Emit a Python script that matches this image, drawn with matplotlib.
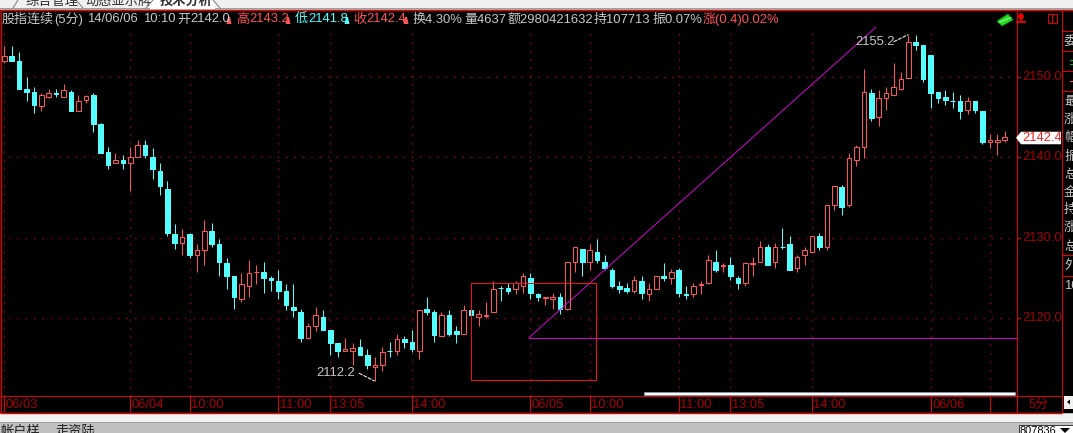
import matplotlib
matplotlib.use("Agg")
import matplotlib.pyplot as plt
from matplotlib.patches import Rectangle, Polygon, Circle

FONT = ['Liberation Sans', 'Noto Sans CJK SC', 'DejaVu Sans']
plt.rcParams['font.family'] = FONT

opens = [2151.9,2152.5,2151.9,2148.4,2148.1,2146.4,2147.5,2147.9,2147.5,2148.1,
         2145.7,2147.1,2147.7,2144.1,2140.6,2139.3,2139.6,2139.3,2140.0,2141.5,
         2140.0,2138.3,2136.0,2130.4,2129.4,2130.4,2127.8,2128.5,2130.8,2129.2,
         2126.8,2125.2,2122.4,2124.0,2125.7,2125.8,2125.0,2124.6,2123.4,2121.4,
         2120.8,2117.5,2119.1,2120.1,2118.5,2116.9,2115.9,2115.9,2116.5,2115.5,
         2113.9,2114.2,2116.0,2115.9,2117.4,2117.1,2115.9,2121.1,2120.8,2117.8,
         2120.4,2118.4,2118.1,2121.0,2120.1,2120.3,2120.8,2123.8,2123.7,2123.6,
         2124.0,2125.0,2123.0,2122.5,2122.4,2122.7,2121.1,2127.0,2128.6,2127.0,
         2128.2,2127.0,2126.0,2124.0,2123.7,2123.4,2124.6,2123.0,2123.6,2125.3,
         2125.0,2126.0,2123.0,2123.0,2124.1,2124.4,2127.0,2126.5,2126.6,2125.0,
         2124.4,2126.7,2127.0,2128.8,2127.0,2128.9,2129.2,2126.3,2127.9,2128.2,
         2130.2,2128.9,2134.0,2136.3,2134.0,2139.6,2141.2,2147.9,2145.0,2147.3,
         2147.7,2148.4,2149.8,2154.3,2153.9,2152.7,2148.1,2147.5,2147.0,2146.9,
         2145.8,2146.9,2145.7,2141.9,2141.9,2142.1]
highs = [2153.8,2153.8,2153.0,2149.9,2148.7,2148.0,2148.4,2148.4,2149.1,2148.3,
         2147.7,2147.7,2147.9,2144.2,2141.2,2140.5,2140.2,2141.2,2142.1,2142.1,
         2141.1,2139.3,2137.0,2131.7,2131.1,2130.6,2129.2,2132.2,2131.8,2129.8,
         2127.5,2125.2,2125.6,2127.2,2126.6,2127.0,2125.3,2126.0,2124.2,2124.2,
         2121.1,2119.4,2121.4,2121.0,2118.5,2116.9,2117.5,2116.9,2117.4,2116.2,
         2115.2,2116.5,2117.1,2118.1,2117.8,2118.5,2121.0,2122.6,2121.0,2120.8,
         2121.0,2119.0,2121.7,2121.0,2121.0,2122.0,2124.6,2124.0,2124.4,2124.6,
         2125.6,2125.6,2123.2,2122.6,2123.2,2123.2,2127.0,2128.8,2128.6,2129.2,
         2129.8,2127.8,2126.2,2124.6,2124.4,2125.3,2125.2,2124.4,2125.3,2126.8,
         2126.1,2126.2,2124.0,2124.4,2124.6,2127.8,2128.5,2126.8,2127.6,2125.3,
         2127.0,2127.6,2129.6,2129.2,2129.4,2131.2,2130.2,2127.9,2128.8,2130.2,
         2130.6,2134.0,2136.4,2136.6,2140.5,2141.5,2150.9,2148.4,2148.3,2148.7,
         2151.7,2150.6,2155.2,2155.2,2153.9,2152.7,2148.1,2148.3,2148.1,2147.7,
         2147.5,2146.9,2145.7,2142.9,2142.9,2143.2]
lows = [2151.7,2151.9,2148.4,2147.0,2145.5,2145.7,2147.3,2147.4,2147.5,2145.7,
        2145.7,2146.7,2143.1,2140.5,2138.5,2139.3,2138.5,2135.8,2140.0,2139.9,
        2137.3,2135.3,2130.2,2128.6,2127.8,2127.5,2125.8,2126.6,2128.8,2125.2,
        2123.6,2121.1,2122.0,2122.7,2124.2,2123.2,2123.4,2122.4,2121.0,2120.1,
        2117.1,2117.4,2118.4,2118.5,2115.5,2115.2,2115.9,2114.2,2115.5,2113.7,
        2112.2,2113.5,2115.2,2115.5,2116.3,2115.8,2114.9,2120.4,2117.1,2117.8,
        2117.8,2116.9,2118.1,2120.4,2119.0,2120.0,2120.8,2122.1,2123.0,2123.0,
        2123.2,2122.4,2122.1,2121.7,2121.1,2120.5,2121.0,2125.8,2125.3,2126.0,
        2126.8,2126.0,2123.7,2123.2,2123.2,2123.2,2122.4,2122.1,2123.6,2124.6,
        2124.2,2122.7,2122.4,2122.6,2123.0,2124.2,2125.8,2125.8,2124.7,2123.6,
        2124.0,2125.3,2127.0,2126.6,2126.3,2128.6,2126.0,2125.8,2126.6,2128.2,
        2128.5,2128.5,2133.4,2132.8,2133.8,2138.9,2139.9,2144.5,2143.9,2145.8,
        2147.7,2148.3,2149.8,2153.3,2149.3,2146.1,2146.7,2146.5,2146.1,2144.7,
        2145.3,2145.5,2141.6,2141.1,2140.2,2141.9]
closes = [2152.5,2151.9,2148.4,2148.1,2146.5,2147.7,2147.9,2147.8,2148.3,2145.7,
          2146.9,2147.6,2144.1,2140.5,2139.0,2139.6,2139.3,2140.0,2141.5,2140.2,
          2138.5,2136.4,2130.6,2129.4,2130.1,2127.8,2128.5,2130.8,2129.2,2127.0,
          2125.2,2122.7,2124.2,2125.6,2125.8,2125.0,2124.7,2123.4,2121.6,2121.0,
          2117.5,2119.1,2120.4,2118.5,2116.9,2115.9,2116.2,2116.3,2115.5,2114.2,
          2114.2,2115.8,2115.9,2117.4,2117.1,2116.2,2121.0,2120.8,2117.9,2120.4,
          2118.1,2118.1,2121.0,2120.4,2120.5,2120.4,2123.6,2123.7,2123.4,2124.4,
          2125.2,2123.2,2122.6,2122.6,2122.7,2121.1,2127.0,2128.8,2127.0,2128.5,
          2127.2,2126.2,2124.0,2123.6,2123.4,2124.7,2123.2,2123.6,2125.3,2125.0,
          2125.8,2123.2,2122.9,2124.0,2124.2,2127.2,2126.0,2126.6,2125.2,2124.4,
          2126.8,2126.8,2128.9,2126.6,2128.9,2128.8,2126.0,2127.6,2128.5,2130.2,
          2128.9,2134.0,2136.4,2133.8,2139.9,2141.2,2148.1,2144.8,2147.3,2147.9,
          2148.7,2149.7,2154.3,2153.9,2149.7,2147.9,2147.3,2147.1,2146.9,2145.7,
          2146.9,2145.8,2141.9,2142.1,2142.1,2142.5]

price_ticks = [2150.0, 2140.0, 2130.0, 2120.0]
time_idx = [0, 17, 25, 37, 44, 55, 71, 79, 91, 98, 109, 125, 133]
time_labels = ['06/03', '06/04', '10:00', '11:00', '13:05', '14:00', '06/05',
               '10:00', '11:00', '13:05', '14:00', '06/06', '']
last_price = 2142.4
peak_label = (122, 2155.2)
trough_label = (50, 2112.2)
trend_idx = [70.8, 117.6]
trend_price = [2117.6, 2156.1]
box_idx = [63.0, 79.8]
box_price = [2112.3, 2124.4]

W, H = 1073, 433
RED = '#ff5555'
CYAN = '#55ffff'
FRAME = '#e00000'
DARK = '#a80000'
DOT = '#c00000'
GRAY = '#c8c8c8'
PX = 0.72
STEP = 7.41
X0 = 4.3

fig = plt.figure(figsize=(W / 100, H / 100), dpi=100, facecolor='#c0c0c0')

# chrome layer in pixel coordinates
bg = fig.add_axes([0, 0, 1, 1], zorder=0)
bg.set_xlim(0, W); bg.set_ylim(H, 0); bg.axis('off')
bg.add_patch(Rectangle((0, 0), W, 9, fc='#f0f0f0', ec='none'))
bg.add_patch(Rectangle((0, 8), W, 1.2, fc='#a0a0a0', ec='none'))
bg.add_patch(Rectangle((0, 10), W, 403, fc='black', ec='none'))
bg.add_patch(Rectangle((0, 414), 1073, 8, fc='#f2f2f2', ec='none'))
bg.add_patch(Rectangle((0, 421.5), W, 1.2, fc='#a0a0a0', ec='none'))
bg.add_patch(Rectangle((150, 0), 65, 8.5, fc='white', ec='none'))
for xa, xb, ya, yb in [(13, 18, 8, 0), (76, 83, 0, 8), (146, 153, 8, 0), (213, 220, 0, 8)]:
    bg.plot([xa, xb], [ya, yb], color='#808080', lw=PX)
for txt, x, weight in [('综合管理', 25, 'normal'), ('动态显示牌', 85, 'normal'), ('技术分析', 160, 'bold')]:
    bg.text(x, 1.5, txt, color='#303030', fontsize=9.5, va='center', ha='left', weight=weight)

for y, xa, xb in [(9.8, 0, W), (396, 0, 1061.5), (413, 0, 1061.5),
                  (31, 1061.5, W), (51, 1061.5, W), (71, 1061.5, W), (91, 1061.5, W),
                  (255, 1061.5, W), (276, 1061.5, W)]:
    bg.plot([xa, xb], [y, y], color=FRAME, lw=PX * 1.4 if y in (9.8, 413) else PX, solid_capstyle='butt')
for x, ya, yb in [(0.8, 10, 413), (1016.5, 10, 413), (1061.5, 10, 413)]:
    bg.plot([x, x], [ya, yb], color=FRAME, lw=PX * 1.4 if x < 1 else PX, solid_capstyle='butt')

# header line
hdr = [('股指连续', 2, GRAY), ('(5分)', 54, GRAY), ('14/06/06', 87, GRAY), ('10:10', 143, GRAY),
       ('开', 177, GRAY), ('2142.0', 190, GRAY), ('高', 236, RED), ('2143.2', 249, RED),
       ('低', 295, CYAN), ('2141.8', 308, CYAN), ('收', 353, RED), ('2142.4', 366, RED),
       ('换4.30%', 413, GRAY), ('量4637', 464, GRAY), ('额2980421632', 508, GRAY),
       ('持107713', 594, GRAY), ('振0.07%', 652, GRAY), ('涨(0.4)0.02%', 703, RED)]
for txt, x, col in hdr:
    bg.text(x, 19.5, txt, color=col, fontsize=9.4, va='center', ha='left')
for x, col in [(229, RED), (288, RED), (347, CYAN), (406, RED)]:
    bg.add_patch(Polygon([[x - 2.5, 24], [x + 2.5, 24], [x + 1, 17], [x - 1, 17]], fc=col, ec='none'))

# right column
for txt, y in [('委', 42), ('最', 102), ('涨', 120), ('幅', 138), ('振', 157), ('总', 175),
               ('金', 193), ('持', 210), ('涨', 228), ('总', 247), ('外', 266), ('10', 286)]:
    bg.text(1064, y, txt, color=GRAY, fontsize=9.4, va='center', ha='left')
bg.add_patch(Rectangle((1070, 60), 3, 1.2, fc='#00c000', ec='none'))
bg.add_patch(Rectangle((1070, 64), 3, 1.2, fc='#00c000', ec='none'))
bg.add_patch(Rectangle((1070, 81), 3, 1.2, fc=RED, ec='none'))

# icons
bg.add_patch(Polygon([[997, 21], [1008, 14], [1013, 20], [1002, 26]], fc='#20e020', ec='#108010', lw=PX))
bg.plot([999, 1011], [22.5, 17.5], color='#c0ffc0', lw=0.6)
bg.add_patch(Circle((1021, 16.5), 3, fc='#e00000', ec='none'))
bg.plot([1017, 1025], [21.5, 21.5], color='#e00000', lw=1.4)
bg.plot([1021, 1021], [14, 21.5], color='#e00000', lw=1.4)
bg.add_patch(Rectangle((1047.5, 13.5), 9, 9, fc='none', ec=FRAME, lw=PX))
bg.plot([1052, 1052], [14, 22], color=FRAME, lw=PX)

# bottom widgets
bg.text(0, 432, '帐户样', color='#202020', fontsize=9.5, va='center', ha='left')
bg.text(56, 432, '走资陆', color='#202020', fontsize=9.5, va='center', ha='left')
bg.add_patch(Rectangle((1018.5, 424.5), 60, 12, fc='white', ec='#404040', lw=PX))
bg.text(1020, 431, '807836', color='black', fontsize=7.9, va='center', ha='left')
bg.add_patch(Polygon([[1060, 428], [1070, 428], [1065, 433]], fc='black', ec='none'))
bg.add_patch(Rectangle((1064, 396), 12, 13, fc='#f0f0f0', ec='none'))
bg.add_patch(Polygon([[1067, 402], [1070, 399.5], [1070, 404.5]], fc='black', ec='none'))

# price panel: every mark goes through these scales
ax = fig.add_axes([0, (H - 396) / H, 1016.5 / W, 386 / H], zorder=2, facecolor='none')
ax.set_xlim(-X0 / STEP, (1016.5 - X0) / STEP)
ax.set_ylim(2150 - (396 - 76.5) / 8.06, 2150 + (76.5 - 10) / 8.06)
ax.axis('off')

for p in price_ticks:
    ax.plot(ax.get_xlim(), [p, p], color=DOT, lw=PX, ls=(0, (1.4, 7)), zorder=1)
for i in time_idx:
    ax.plot([i, i], [ax.get_ylim()[0], 2155.6], color=DOT, lw=PX, ls=(0, (1.4, 7)), zorder=1)

n = len(opens)
xs = list(range(n))
for i in xs:
    up = closes[i] >= opens[i]
    col = RED if up else CYAN
    ax.plot([i, i], [lows[i], highs[i]], color=col, lw=PX, solid_capstyle='butt', zorder=3)
    top, bot = max(opens[i], closes[i]), min(opens[i], closes[i])
    ax.bar(i, top - bot, bottom=bot, width=4.6 / STEP, zorder=4, align='center',
           facecolor='black' if up else CYAN, edgecolor=col, linewidth=PX)

ax.plot(trend_idx, trend_price, color='#f000f0', lw=0.62, zorder=6)
ax.plot([trend_idx[0], ax.get_xlim()[1]], [trend_price[0]] * 2, color='#d000d0', lw=PX,
        antialiased=False, zorder=6)
ax.add_patch(Rectangle((box_idx[0], box_price[0]), box_idx[1] - box_idx[0], box_price[1] - box_price[0],
                       fc='none', ec='#f01010', lw=PX, antialiased=False, zorder=6))

# peak and trough callouts
ax.plot([peak_label[0] - 2.0, peak_label[0]], [peak_label[1] - 0.9, peak_label[1]],
        color='white', lw=PX, ls=(0, (4, 1)), zorder=7)
ax.annotate(f'{peak_label[1]:.1f}', xy=peak_label, xytext=(895, H - 42), textcoords='figure pixels',
            color=GRAY, fontsize=9.4, ha='right', va='center', zorder=7)
ax.plot([trough_label[0] - 2.15, trough_label[0]], [trough_label[1] + 1.0, trough_label[1]],
        color='white', lw=PX, ls=(0, (4, 1)), zorder=7)
ax.annotate(f'{trough_label[1]:.1f}', xy=trough_label, xytext=(355, H - 373), textcoords='figure pixels',
            color=GRAY, fontsize=9.4, ha='right', va='center', zorder=7)

# scrollbar strip
ax.add_patch(Rectangle(((644 - X0) / STEP, ax.get_ylim()[0] + 0.12), (1015 - 644) / STEP, 0.35,
                       fc='white', ec='#8090a0', lw=PX, zorder=7))

# axis labels in pixel overlay, positioned through the price scale
ov = fig.add_axes([0, 0, 1, 1], zorder=3, facecolor='none')
ov.set_xlim(0, W); ov.set_ylim(H, 0); ov.axis('off')
to_y = lambda p: 76.5 + (2150 - p) * 8.06
to_x = lambda i: X0 + i * STEP
for p in price_ticks:
    ov.plot([1016.5, 1020], [to_y(p)] * 2, color=FRAME, lw=PX)
    ov.text(1022, to_y(p), f'{p:.1f}', color=DARK, fontsize=9.3, va='center', ha='left')
for i, lab in zip(time_idx, time_labels):
    ov.plot([to_x(i)] * 2, [396, 411], color=FRAME, lw=PX)
    ov.text(to_x(i) + 1.5, 405, lab, color=DARK, fontsize=9.3, va='center', ha='left')
ov.plot([1016.5, 1016.5], [396, 411], color=FRAME, lw=PX)
ov.text(1029, 405, '5分', color=DARK, fontsize=9.3, va='center', ha='left')

y = to_y(last_price)
ov.add_patch(Polygon([[1016, y], [1021, y - 6], [1061, y - 6], [1061, y + 6.5], [1021, y + 6.5]],
                     fc='white', ec='none', zorder=5))
ov.text(1022.5, y + 0.3, f'{last_price:.1f}', color='#f02020', fontsize=9.3, va='center', ha='left', zorder=6)

fig.savefig('out.png', dpi=100, facecolor=fig.get_facecolor())
